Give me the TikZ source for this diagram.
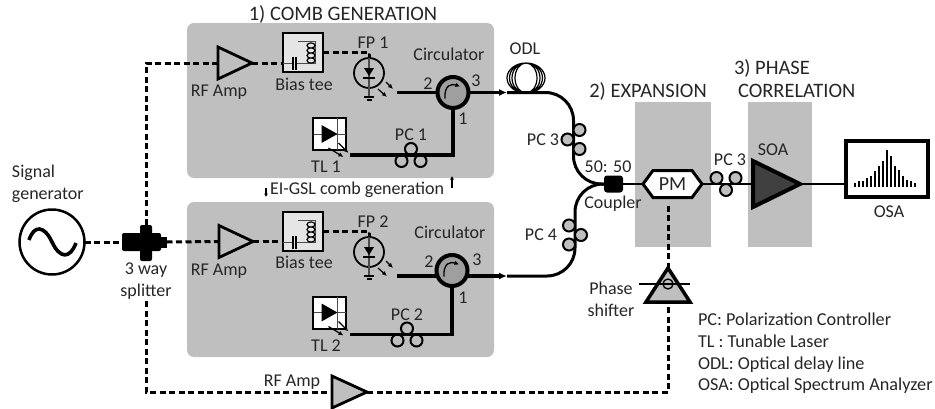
\documentclass[tikz,border=0pt]{standalone}
\usepackage{fontspec}
\setmainfont{Carlito}
\usetikzlibrary{arrows.meta,shapes.geometric,shapes.symbols}

\begin{document}
\begin{tikzpicture}[
  x=1pt, y=-1pt,
  every node/.style={text=black!85, inner sep=0pt, outer sep=0pt},
  lab/.style={font=\fontsize{18}{22}\selectfont, align=center},
  title/.style={font=\fontsize{20.5}{23}\selectfont, align=left},
  panel/.style={fill=gray!50, rounded corners=7pt, minimum width=307pt, minimum height=155pt},
  stage/.style={fill=gray!50, minimum height=145pt},
  amp/.style={draw=black, line width=2.8pt, isosceles triangle, isosceles triangle stretches, anchor=lower side, minimum width=32pt, minimum height=34pt},
  tee/.style={draw=black, fill=gray!20, line width=2pt, minimum width=40pt, minimum height=39pt},
  diode/.style={draw=black, line width=1.8pt, circle, minimum size=30pt},
  laser/.style={draw=black, fill=white, line width=2pt, minimum width=33pt, minimum height=32pt},
  circ/.style={draw=black, fill=gray!75, line width=4pt, circle, minimum size=31pt},
  blackbox/.style={fill=black, rounded corners=2pt},
  rf/.style={line width=3pt, dash pattern=on 6pt off 3.5pt},
  fiber/.style={line width=3.5pt},
  curvefiber/.style={line width=3pt, rounded corners=28pt},
  thinfiber/.style={line width=2.6pt},
  thin arrow/.style={-{Latex[length=5pt,width=4.5pt]}, line width=1.2pt},
  pcring/.pic={
    \draw[line width=2pt, pic actions] (0,-6) circle[radius=6pt] (-9.5,6) circle[radius=6pt] (9.5,6) circle[radius=6pt];
  },
  teeinside/.pic={
    \draw[line width=1pt, black!70] (-20,11) -- (-10,11) (-7,11) -- (12,11) -- (12,-11) -- (-5,-11);
    \draw[line width=1.2pt] (-10,4) -- (-10,17) (-7,4) -- (-7,17);
    \draw[line width=1.2pt, fill=gray!20] (8,-7) ellipse[x radius=4pt, y radius=2.6pt] (8,-2) ellipse[x radius=4pt, y radius=2.6pt] (8,3) ellipse[x radius=4pt, y radius=2.6pt] (8,8) ellipse[x radius=4pt, y radius=2.6pt];
  },
  pdinside/.pic={
    \draw[line width=1.1pt, black!70] (0,-20) -- (0,24);
    \fill[black] (-5,-5) -- (5,-5) -- (0,3) -- cycle;
    \draw[line width=2.2pt] (-6,5) -- (6,5);
    \draw[line width=1.4pt] (-5,24) -- (5,24);
    \draw[line width=1.6pt] (-2.5,27) -- (2.5,27);
    \draw[thin arrow] (17,9) -- (24,16);
    \draw[thin arrow] (9,16) -- (18,24);
  },
  tlinside/.pic={
    \draw[line width=1pt, black!70] (-16,0) -- (16,0) (8,-16) -- (8,16);
    \fill[black] (-8,-9) -- (8,0) -- (-8,9) -- cycle;
    \draw[thin arrow] (9,9) -- (19,19);
    \draw[thin arrow] (-1,14) -- (14,23);
  },
  circinside/.pic={
    \draw[line width=1.3pt, -{Latex[length=4.5pt,width=4.5pt]}] (-8,6) .. controls (-9,-8) and (-1,-9) .. (7,-6);
  },
  sineinside/.pic={
    \draw[line width=3.6pt] (-23,-2) .. controls (-18,-17) and (-8,-17) .. (0,0) .. controls (8,17) and (18,17) .. (24,1);
  },
  coilinside/.pic={
    \draw[line width=1.2pt] (0,0) ellipse[x radius=19pt, y radius=15pt] (0,0) ellipse[x radius=16.5pt, y radius=15pt] (0,0) ellipse[x radius=14pt, y radius=15pt] (0,0) ellipse[x radius=11pt, y radius=15pt];
  },
  spectrum/.pic={
    \foreach \px/\ph in {-32/4,-28/5.7,-24/5.7,-20/9,-16/11.3,-12/15.7,-8/21,-4/25.7,0/36.7,4/31,8/21,12/16.7,16/11.3,20/7.3,24/6.3,28/4}
      \draw[line width=1.3pt] (\px,0) -- (\px,-\ph);
  },
  shifterinside/.pic={
    \draw[line width=1.6pt] (-29,0) -- (22,0);
    \draw[line width=1.3pt] (0,0) circle[radius=5pt];
  }
]
\useasboundingbox (0,0) rectangle (935,408);

% grey backgrounds
\node[panel] (comba) at (340.5,100.5) {};
\node[panel] (combb) at (340.5,279.5) {};
\node[stage, minimum width=76pt] (expansion) at (673,174.5) {};
\node[stage, minimum width=64pt] (correlation) at (780,174.5) {};

% titles
\node[title] (titlea) at (343,14) {1) COMB GENERATION};
\node[title] (titleb) at (648,91) {2) EXPANSION};
\node[title, anchor=west] (titlec) at (734,78.5) {3) PHASE\\\hspace*{4pt}CORRELATION};

% source and splitter
\node[draw=black, line width=2.5pt, circle, minimum size=65pt] (sig) at (52,242) {};
\pic at (sig.center) {sineinside};
\node[blackbox, minimum width=39pt, minimum height=18pt] (splith) at (141.5,242) {};
\node[blackbox, minimum width=12pt, minimum height=36pt] (splitv) at (146,243) {};
\node[fill=black, minimum width=6pt, minimum height=11pt] (splitr) at (163.5,242) {};
\coordinate (splitdown) at (146,301);
\node[lab, align=left, anchor=west] (siglab) at (12,184) {Signal\\generator};
\node[lab] (splitlab) at (146,281) {3 way\\splitter};

% upper comb arm
\node[amp] (ampa) at (218,63) {};
\node[tee] (teea) at (303,52.5) {};
\pic at (teea.center) {teeinside};
\node[diode] (fpa) at (369,73) {};
\pic at (fpa.center) {pdinside};
\node[circ] (circa) at (453,92.5) {};
\pic at (circa.center) {circinside};
\node[laser] (tla) at (329.5,134) {};
\pic at (tla.center) {tlinside};
\coordinate (fpouta) at (397,92.5);
\coordinate (tlouta) at (350,155);
\coordinate (odlina) at (507,92.5);
\node[lab] (rflaba) at (219,92) {RF Amp};
\node[lab] (teelaba) at (304,84) {Bias tee};
\node[lab] (fplaba) at (373,43) {FP 1};
\node[lab] (circlaba) at (449,54) {Circulator};
\node[lab] (portaa) at (428,84) {2};
\node[lab] (portab) at (476,81) {3};
\node[lab] (portac) at (463,119) {1};
\node[lab] (tllaba) at (326,167) {TL 1};
\node[lab] (pclaba) at (411,135) {PC 1};

% lower comb arm
\node[amp] (ampb) at (219,241.5) {};
\node[tee] (teeb) at (303,231.5) {};
\pic at (teeb.center) {teeinside};
\node[diode] (fpb) at (369,252) {};
\pic at (fpb.center) {pdinside};
\node[circ] (circb) at (452,270.5) {};
\pic at (circb.center) {circinside};
\node[laser] (tlb) at (329.5,312.5) {};
\pic at (tlb.center) {tlinside};
\coordinate (fpoutb) at (397,276);
\coordinate (tloutb) at (350,334.5);
\coordinate (odlinb) at (507,276);
\node[lab] (rflabb) at (219,271) {RF Amp};
\node[lab] (teelabb) at (304,262) {Bias tee};
\node[lab] (fplabb) at (373,222) {FP 2};
\node[lab] (circlabb) at (450,232) {Circulator};
\node[lab] (portba) at (429,262) {2};
\node[lab] (portbb) at (477,260) {3};
\node[lab] (portbc) at (463,298) {1};
\node[lab] (tllabb) at (326,346) {TL 2};
\node[lab] (pclabb) at (407,315) {PC 2};

\node[lab] (gsl) at (357,190) {EI-GSL comb generation};
\draw[-{Latex[length=3.5pt,width=4pt]}, line width=1.2pt] ([xshift=-4pt,yshift=2pt]gsl.west) -- ++(0,9);
\draw[-{Latex[length=3.5pt,width=4pt]}, line width=1.2pt] ([xshift=8pt,yshift=2pt]gsl.east) -- ++(0,-12);

% expansion and correlation
\node[blackbox, rounded corners=3pt, minimum width=19pt, minimum height=17pt] (coupler) at (613.5,184) {};
\node[draw=black, fill=white, line width=3pt, signal, signal to=east and west, signal pointer angle=107, minimum width=59pt, minimum height=27pt, font=\fontsize{20}{20}\selectfont] (pm) at (672.5,184) {PM};
\node[amp, fill=black!75, line width=4pt, minimum width=46pt, minimum height=47pt] (soa) at (753,184) {};
\node[draw=black, fill=white, line width=3.4pt, minimum width=82pt, minimum height=56pt] (osa) at (887,169) {};
\pic at (osa.center |- 0,187) {spectrum};
\node[draw=black, fill=gray!50, line width=3.5pt, isosceles triangle, isosceles triangle stretches, shape border rotate=90, anchor=apex, minimum width=44pt, minimum height=34pt] (phase) at (668,268) {};
\pic at (668,284) {shifterinside};
\node[amp, fill=gray!50, minimum width=32pt, minimum height=35pt] (ampc) at (332,392) {};
\pic at (526,78) {coilinside};
\node[lab] (odllab) at (525,49) {ODL};
\node[lab] (pclabc) at (543,140) {PC 3};
\node[lab] (pclabd) at (541,235) {PC 4};
\node[lab] (ratio) at (608,167) {50: 50};
\node[lab] (couplerlab) at (613,204) {Coupler};
\node[lab] (pclabe) at (730,160) {PC 3};
\node[lab] (soalab) at (773,150) {SOA};
\node[lab] (osalab) at (889,212) {OSA};
\node[lab] (phaselab) at (611,299) {Phase\\shifter};
\node[lab] (rflabc) at (292,382) {RF Amp};
\node[lab, align=left, font=\fontsize{18.2}{21.7}\selectfont, anchor=west] (legend) at (698,353.5) {PC: Polarization Controller\\TL : Tunable Laser\\ODL: Optical delay line\\OSA: Optical Spectrum Analyzer};

% RF connectors
\draw[rf] (sig.east) -- (splith.west);
\draw[rf] (splitr.east) -- (ampb.lower side);
\draw[rf] (splitv.north) |- (ampa.lower side);
\draw[rf] (ampa.apex) -- (teea.west |- ampa.apex);
\draw[rf] (ampb.apex) -- (teeb.west |- ampb.apex);
\draw[rf] (teea.east) -| (fpa.north);
\draw[rf] (teeb.east) -| (fpb.north);
\draw[rf] (splitdown) |- (ampc.lower side);
\draw[rf] (ampc.apex) -| (phase.south);
\draw[rf, shorten <=8pt] (pm.south -| phase.apex) -- (phase.apex);

% optical connectors
\draw[fiber] (fpouta) -- (circa.west);
\draw[fiber] (tlouta) -| (circa.south);
\draw[fiber, -{Latex[length=8pt,width=7pt]}] (circa.east) -- (odlina);
\draw[fiber] (fpoutb) -- (fpoutb -| circb.west);
\draw[fiber] (tloutb) -| (circb.south);
\draw[fiber, -{Latex[length=8pt,width=7pt]}] (odlinb -| circb.east) -- (odlinb);
\draw[curvefiber] (odlina) -- (573.5,92.5) -- (573.5,184) -- (coupler.west);
\draw[curvefiber] (coupler.west) -- (575,184) -- (575,276) -- (odlinb);
\draw[thinfiber] (coupler.east) -- (pm.west);
\draw[thinfiber] (pm.east) -- (soa.lower side);
\draw[thinfiber] (soa.apex) -- (soa.apex -| osa.west);

% polarization controllers
\pic at (411,155) {pcring};
\pic at (407,334.5) {pcring};
\pic[rotate=90, fill=gray!50] at (573.5,139.5) {pcring};
\pic[rotate=-90, fill=gray!50] at (575,235) {pcring};
\pic[rotate=180, fill=gray!50] at (726,184) {pcring};
\end{tikzpicture}
\end{document}
